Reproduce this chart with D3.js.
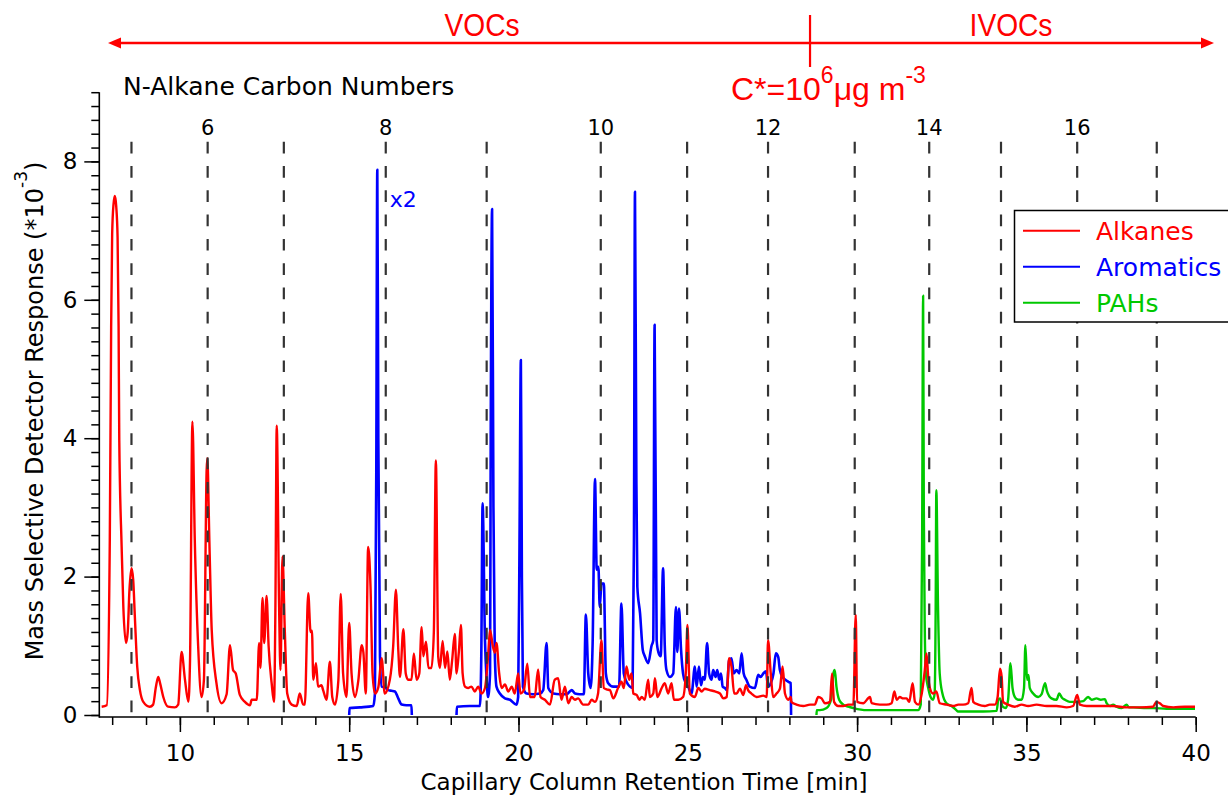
<!DOCTYPE html>
<html>
<head>
<meta charset="utf-8">
<script src="https://cdn.jsdelivr.net/npm/d3@7"></script>
<style>
  html, body { margin: 0; padding: 0; background: #fff; }
  svg { display: block; }
</style>
</head>
<body>
<svg id="chart" width="1228" height="797" font-family="DejaVu Sans, sans-serif"></svg>
<script>
// Chromatogram traces: [retention time (min), response (*10^-3)]
const alkanes = [
  [7.69,0.12],[7.84,0.14],[7.93,2.53],[7.97,5.60],[8.00,6.95],[8.04,7.38],[8.08,7.50],[8.12,7.35],
  [8.16,6.90],[8.19,5.60],[8.21,3.97],[8.28,2.43],
  [8.33,1.56],[8.41,1.04],[8.46,1.20],[8.51,1.80],[8.57,2.12],[8.62,1.96],[8.67,1.42],[8.74,0.70],
  [8.82,0.36],[8.92,0.19],[9.11,0.12],[9.21,0.15],[9.29,0.40],[9.36,0.55],[9.42,0.45],[9.51,0.26],
  [9.65,0.12],[9.85,0.11],[9.95,0.15],[10.05,0.91],[10.15,0.51],[10.25,0.19],[10.30,0.80],[10.37,4.24],
  [10.44,2.53],[10.54,0.99],[10.64,0.26],[10.71,0.51],[10.79,3.54],[10.81,3.71],[10.87,2.53],[10.94,1.23],
  [11.08,0.46],[11.23,0.17],[11.38,0.30],[11.48,1.01],[11.57,0.65],[11.65,0.60],[11.77,0.29],[11.92,0.19],
  [12.07,0.14],[12.12,0.22],[12.27,0.22],[12.34,1.04],[12.38,0.68],[12.44,1.69],[12.49,1.04],[12.56,1.72],
  [12.62,1.00],[12.71,0.46],[12.78,0.19],[12.82,1.50],[12.86,4.18],[12.93,1.56],[12.97,0.65],[13.03,2.29],
  [13.10,1.20],[13.17,0.31],[13.30,0.15],[13.45,0.13],[13.54,0.31],[13.64,0.15],[13.69,0.15],[13.79,1.76],
  [13.86,1.20],[13.90,1.22],[13.94,0.51],[14.02,0.75],[14.08,0.41],[14.18,0.43],[14.23,0.36],[14.33,0.22],
  [14.43,0.77],[14.50,0.26],[14.58,0.15],[14.68,0.50],[14.75,1.75],[14.82,0.60],[14.92,0.26],[15.00,1.33],
  [15.07,0.60],[15.17,0.26],[15.27,0.50],[15.37,1.01],[15.42,0.90],[15.49,0.31],[15.56,2.43],[15.63,1.85],
  [15.69,0.60],[15.76,0.31],[15.86,0.40],[15.96,0.82],[16.05,0.31],[16.20,0.51],[16.30,1.00],[16.38,1.81],
  [16.45,0.94],[16.50,0.55],[16.60,1.24],[16.67,0.60],[16.74,0.51],[16.84,0.51],[16.91,0.89],[16.99,0.51],
  [17.07,0.60],[17.14,1.27],[17.19,0.85],[17.27,1.06],[17.34,0.68],[17.43,0.68],[17.50,1.20],[17.56,3.68],
  [17.63,0.84],[17.68,0.68],[17.76,1.07],[17.83,0.68],[17.90,0.92],[17.97,0.51],[18.04,0.79],[18.12,1.17],
  [18.17,0.60],[18.24,0.92],[18.30,1.30],[18.35,0.60],[18.42,0.41],[18.51,0.39],[18.61,0.41],[18.71,0.34],
  [18.81,0.41],[18.91,0.31],[19.01,0.39],[19.10,0.84],[19.16,1.23],[19.24,1.00],[19.30,0.90],[19.35,1.04],
  [19.43,0.60],[19.50,0.39],[19.60,0.44],[19.70,0.34],[19.80,0.41],[19.89,0.31],[19.99,0.60],[20.06,0.31],
  [20.16,0.36],[20.26,0.74],[20.34,0.26],[20.48,0.26],[20.58,0.66],[20.65,0.26],[20.78,0.22],[20.93,0.15],
  [21.07,0.51],[21.17,0.53],[21.27,0.22],[21.37,0.41],[21.47,0.17],[21.57,0.26],[21.67,0.22],[21.76,0.24],
  [21.91,0.15],[22.06,0.15],[22.16,0.22],[22.26,0.19],[22.35,0.31],[22.45,1.08],[22.52,0.39],[22.60,0.37],
  [22.70,0.36],[22.80,0.24],[22.94,0.39],[23.04,0.48],[23.11,0.39],[23.19,0.70],[23.27,0.51],[23.34,0.60],
  [23.39,0.31],[23.49,0.29],[23.57,0.22],[23.64,0.26],[23.73,0.22],[23.83,0.51],[23.88,0.26],[23.98,0.31],
  [24.03,0.53],[24.10,0.26],[24.23,0.39],[24.32,0.46],[24.42,0.31],[24.52,0.46],[24.59,0.22],[24.72,0.22],
  [24.86,0.26],[24.94,0.60],[24.99,1.30],[25.06,0.31],[25.21,0.26],[25.31,0.39],[25.41,0.34],[25.50,0.38],
  [25.65,0.36],[25.80,0.34],[25.95,0.31],[26.05,0.24],[26.15,0.26],[26.22,0.82],[26.29,0.70],[26.37,0.31],
  [26.44,0.31],[26.54,0.38],[26.64,0.29],[26.72,0.43],[26.78,0.36],[26.88,0.31],[27.03,0.26],[27.23,0.28],
  [27.33,0.26],[27.37,1.08],[27.45,0.60],[27.52,0.26],[27.62,0.31],[27.72,0.38],[27.80,0.70],[27.87,0.31],
  [27.97,0.22],[28.04,0.26],[28.06,0.19],[28.21,0.15],[28.41,0.13],[28.61,0.15],[28.75,0.15],[28.85,0.26],
  [28.95,0.24],[29.05,0.17],[29.20,0.19],[29.26,0.60],[29.32,0.19],[29.44,0.13],[29.59,0.13],[29.74,0.15],
  [29.89,0.15],[29.96,1.45],[30.00,0.19],[30.18,0.17],[30.38,0.26],[30.43,0.17],[30.67,0.15],[30.87,0.15],
  [31.02,0.17],[31.10,0.34],[31.17,0.22],[31.26,0.26],[31.36,0.24],[31.46,0.24],[31.54,0.19],[31.64,0.46],
  [31.71,0.19],[31.81,0.15],[31.91,0.31],[32.00,0.65],[32.05,0.89],[32.10,0.55],[32.15,0.39],[32.24,0.31],
  [32.34,0.34],[32.44,0.17],[32.64,0.15],[32.84,0.13],[32.99,0.15],[33.13,0.15],[33.28,0.17],[33.38,0.39],
  [33.43,0.19],[33.58,0.15],[33.77,0.13],[33.92,0.15],[34.07,0.15],[34.15,0.26],[34.22,0.67],[34.27,0.55],
  [34.31,0.19],[34.46,0.15],[34.66,0.12],[34.86,0.15],[35.05,0.13],[35.30,0.15],[35.60,0.13],[35.89,0.13],
  [36.19,0.11],[36.38,0.13],[36.50,0.29],[36.58,0.15],[36.78,0.13],[37.17,0.13],[37.56,0.13],[37.96,0.11],
  [38.35,0.11],[38.74,0.12],[38.84,0.19],[38.94,0.17],[39.04,0.13],[39.34,0.11],[39.68,0.12],[39.98,0.12]
];

// Aromatics (plotted x2); null marks the gap between the two acquisition windows
const aromatics = [
  [15.00,0.00],[15.01,0.10],[15.32,0.11],[15.71,0.13],[15.76,0.31],[15.80,3.50],[15.83,7.88],[15.86,4.00],
  [15.91,0.84],[15.96,0.41],[16.05,0.40],[16.15,0.36],[16.25,0.35],[16.35,0.34],[16.45,0.24],[16.55,0.15],
  [16.69,0.14],[16.84,0.14],[16.85,0.00],
  null,
  [18.17,0.00],[18.18,0.12],[18.56,0.13],[18.86,0.13],[18.90,0.80],[18.94,3.06],[19.01,1.08],[19.06,0.51],
  [19.10,0.26],[19.16,0.60],[19.18,4.00],[19.22,7.31],[19.26,3.00],[19.30,0.90],[19.35,0.41],[19.45,0.31],
  [19.60,0.24],[19.75,0.22],[19.94,0.15],[19.99,0.26],[20.03,2.50],[20.07,5.13],[20.10,2.00],[20.13,0.41],
  [20.24,0.31],[20.43,0.30],[20.63,0.31],[20.73,0.36],[20.83,1.04],[20.88,0.39],[21.03,0.31],[21.22,0.30],
  [21.42,0.30],[21.57,0.36],[21.67,0.31],[21.81,0.30],[21.93,0.30],[21.99,1.45],[22.06,0.60],[22.13,0.39],
  [22.19,1.04],[22.26,3.41],[22.31,2.10],[22.36,2.14],[22.40,1.56],[22.45,1.90],[22.52,1.90],[22.58,0.60],
  [22.65,0.46],[22.80,0.41],[22.97,0.41],[23.04,1.61],[23.11,0.60],[23.19,0.48],[23.29,0.41],[23.37,0.39],
  [23.41,2.50],[23.44,7.56],[23.48,3.50],[23.51,1.85],[23.59,1.47],[23.67,0.94],[23.73,0.85],[23.83,0.75],
  [23.93,1.00],[23.98,1.08],[24.02,5.64],[24.08,1.08],[24.13,0.91],[24.20,0.85],[24.27,2.12],[24.32,1.00],
  [24.37,0.65],[24.47,0.55],[24.57,0.60],[24.65,1.56],[24.69,0.91],[24.74,1.54],[24.80,0.95],[24.86,0.60],
  [24.94,0.46],[25.01,0.41],[25.11,0.31],[25.21,0.70],[25.26,0.41],[25.33,0.70],[25.39,0.43],[25.45,0.55],
  [25.50,0.51],[25.57,1.04],[25.63,0.60],[25.70,0.51],[25.75,0.65],[25.82,0.55],[25.87,0.65],[25.93,0.51],
  [25.98,0.60],[26.03,0.41],[26.10,0.39],[26.15,0.36],[26.22,0.79],[26.29,0.82],[26.36,0.60],[26.44,0.65],
  [26.52,0.60],[26.59,0.89],[26.65,0.60],[26.73,0.51],[26.83,0.41],[26.98,0.39],[27.08,0.58],[27.15,0.55],
  [27.23,0.60],[27.31,0.63],[27.37,0.41],[27.45,0.46],[27.53,0.60],[27.60,0.89],[27.67,0.84],[27.72,0.65],
  [27.80,0.55],[27.88,0.51],[27.97,0.48],[28.04,0.46],[28.05,0.00]
];

const pahs = [
  [28.80,0.00],[28.81,0.07],[28.90,0.07],[29.10,0.10],[29.23,0.22],[29.30,0.60],[29.34,0.65],[29.39,0.41],
  [29.47,0.22],[29.59,0.15],[29.74,0.12],[29.89,0.10],[30.28,0.07],[30.77,0.07],[31.26,0.07],[31.81,0.07],
  [31.88,0.15],[31.92,2.50],[31.95,6.06],[31.97,3.00],[32.00,1.20],[32.03,0.60],[32.10,0.39],[32.17,0.26],
  [32.24,0.22],[32.29,0.31],[32.32,1.50],[32.34,3.25],[32.39,1.56],[32.44,0.60],[32.52,0.31],[32.64,0.17],
  [32.79,0.13],[32.93,0.07],[32.98,0.05],[33.23,0.05],[33.72,0.05],[34.12,0.06],[34.17,0.22],[34.22,0.24],
  [34.30,0.12],[34.39,0.10],[34.46,0.22],[34.53,0.75],[34.59,0.39],[34.66,0.26],[34.76,0.22],[34.86,0.22],
  [34.93,0.39],[34.97,1.01],[35.02,0.51],[35.06,0.58],[35.10,0.39],[35.20,0.31],[35.35,0.26],[35.45,0.30],
  [35.55,0.46],[35.61,0.34],[35.74,0.24],[35.89,0.22],[35.97,0.31],[36.05,0.25],[36.14,0.22],[36.28,0.19],
  [36.48,0.19],[36.68,0.20],[36.82,0.26],[36.93,0.22],[37.07,0.24],[37.20,0.22],[37.32,0.23],[37.37,0.17],
  [37.47,0.13],[37.56,0.15],[37.66,0.12],[37.81,0.10],[37.96,0.15],[38.03,0.11],[38.16,0.11],[38.55,0.10],
  [38.74,0.10],[39.14,0.09],[39.63,0.09],[39.98,0.09]
];

// n-alkane reference retention times and their carbon numbers
const carbonNumbers = [5, 6, 7, 8, 9, 10, 11, 12, 13, 14, 15, 16, 17];
const carbonTimes = [8.57, 10.82, 13.07, 16.08, 19.06, 22.43, 24.98, 27.37, 29.93, 32.13, 34.25, 36.50, 38.85];
const labelledCarbons = [6, 8, 10, 12, 14, 16];

const xMajorTicks = [10, 15, 20, 25, 30, 35, 40];
const yMajorTicks = [0, 2, 4, 6, 8];

const seriesNames = ["Alkanes", "Aromatics", "PAHs"];
const seriesColors = ["#ff0000", "#0000ff", "#00c800"];

// Volatility split between VOCs and IVOCs (retention time, min)
const volatilitySplit = 28.61;

const svg = d3.select("#chart");
const x = d3.scaleLinear().domain([7.62, 40]).range([99.3, 1195.7]);
const y = d3.scaleLinear().domain([0, 9]).range([715, 92.2]);
const xAxisY = 717;

// ---- traces (PAHs underneath, alkanes on top)
const line = d3.line()
  .defined(d => d !== null)
  .x(d => x(d[0]))
  .y(d => y(d[1]))
  .curve(d3.curveMonotoneX);

const traces = [
  { data: pahs, color: seriesColors[2], width: 2.4 },
  { data: aromatics, color: seriesColors[1], width: 2.6 },
  { data: alkanes, color: seriesColors[0], width: 2.4 }
];
svg.append("g").selectAll("path").data(traces).join("path")
  .attr("d", d => line(d.data))
  .attr("fill", "none")
  .attr("stroke", d => d.color)
  .attr("stroke-width", d => d.width)
  .attr("stroke-linejoin", "round");

// ---- n-alkane marker lines
svg.append("g").selectAll("line").data(carbonTimes).join("line")
  .attr("x1", d => x(d)).attr("x2", d => x(d))
  .attr("y1", 141.7).attr("y2", y(0))
  .attr("stroke", "#333")
  .attr("stroke-width", 2.2)
  .attr("stroke-dasharray", "11.7,12.6");

svg.append("g").selectAll("text")
  .data(carbonNumbers.map((c, i) => ({ c, t: carbonTimes[i] })).filter(d => labelledCarbons.includes(d.c)))
  .join("text")
  .attr("x", d => x(d.t)).attr("y", 135)
  .attr("text-anchor", "middle")
  .attr("font-size", 21)
  .text(d => d.c);

svg.append("text")
  .attr("x", 123).attr("y", 95)
  .attr("font-size", 25)
  .text("N-Alkane Carbon Numbers");

// ---- axes
const xMinor = d3.range(8, 41, 1);
const yMinor = d3.range(0, 46, 1).map(i => i * 0.2);

const gx = svg.append("g").attr("transform", `translate(0,${xAxisY})`);
gx.append("g").call(d3.axisBottom(x).tickValues(xMinor).tickSize(8).tickFormat(""));
gx.append("g").call(d3.axisBottom(x).tickValues(xMajorTicks).tickSize(15).tickPadding(13).tickFormat(d3.format("d")));
gx.selectAll(".domain").remove();
gx.selectAll("g").attr("font-family", null);
gx.selectAll("line").attr("stroke", "#000").attr("stroke-width", 1.5);
gx.selectAll("text").attr("font-size", 23).attr("fill", "#000");
gx.append("line").attr("x1", x.range()[0]).attr("x2", x.range()[1])
  .attr("stroke", "#000").attr("stroke-width", 1.6);

const gy = svg.append("g").attr("transform", `translate(${x.range()[0]},0)`);
gy.append("g").call(d3.axisLeft(y).tickValues(yMinor).tickSize(8).tickFormat(""));
gy.append("g").call(d3.axisLeft(y).tickValues(yMajorTicks).tickSize(15).tickPadding(7).tickFormat(d3.format("d")));
gy.selectAll(".domain").remove();
gy.selectAll("g").attr("font-family", null);
gy.selectAll("line").attr("stroke", "#000").attr("stroke-width", 1.5);
gy.selectAll("text").attr("font-size", 23).attr("fill", "#000");
gy.append("line").attr("y1", y(9)).attr("y2", xAxisY + 0.8)
  .attr("stroke", "#000").attr("stroke-width", 1.6);

// axis titles
svg.append("text")
  .attr("x", 644).attr("y", 790)
  .attr("text-anchor", "middle")
  .attr("font-size", 23)
  .text("Capillary Column Retention Time [min]");

const yTitle = svg.append("text")
  .attr("transform", "translate(43,411) rotate(-90)")
  .attr("text-anchor", "middle")
  .attr("font-size", 24);
yTitle.append("tspan").text("Mass Selective Detector Response (*10");
yTitle.append("tspan").attr("font-size", 17).attr("dy", -16).text("-3");
yTitle.append("tspan").attr("dy", 16).text(")");

// ---- "x2" note on the aromatic trace
svg.append("text")
  .attr("x", x(16.2)).attr("y", y(7.34))
  .attr("font-size", 22)
  .attr("fill", seriesColors[1])
  .text("x2");

// ---- VOC / IVOC banner
const red = "#ff0000";
const sansFace = "Liberation Sans, Arial, sans-serif";
const arrowY = 43, arrowL = 108, arrowR = 1214;
const banner = svg.append("g");
banner.append("line")
  .attr("x1", arrowL + 10).attr("x2", arrowR - 10)
  .attr("y1", arrowY).attr("y2", arrowY)
  .attr("stroke", red).attr("stroke-width", 2.4);
banner.append("path")
  .attr("d", `M${arrowL},${arrowY} L${arrowL + 13},${arrowY - 5.5} L${arrowL + 13},${arrowY + 5.5} Z`)
  .attr("fill", red);
banner.append("path")
  .attr("d", `M${arrowR},${arrowY} L${arrowR - 13},${arrowY - 5.5} L${arrowR - 13},${arrowY + 5.5} Z`)
  .attr("fill", red);
banner.append("line")
  .attr("x1", x(volatilitySplit)).attr("x2", x(volatilitySplit))
  .attr("y1", 15).attr("y2", 67)
  .attr("stroke", red).attr("stroke-width", 2.2);

// region names in a slightly condensed face
[["VOCs", 482], ["IVOCs", 1011]].forEach(([label, cx]) => {
  banner.append("text")
    .attr("transform", `translate(${cx},36) scale(0.88,1)`)
    .attr("text-anchor", "middle")
    .attr("font-family", sansFace)
    .attr("font-size", 32)
    .attr("fill", red)
    .text(label);
});

const cstar = banner.append("text")
  .attr("x", 731).attr("y", 100)
  .attr("font-family", sansFace)
  .attr("font-size", 32)
  .attr("fill", red);
cstar.append("tspan").text("C*=10");
cstar.append("tspan").attr("font-size", 23).attr("dy", -17).text("6");
cstar.append("tspan").attr("dy", 17).text("\u03BCg m");
cstar.append("tspan").attr("font-size", 23).attr("dy", -17).text("-3");

// ---- legend
const legend = svg.append("g");
legend.append("rect")
  .attr("x", 1014.5).attr("y", 210.5)
  .attr("width", 230).attr("height", 111.5)
  .attr("fill", "#fff")
  .attr("stroke", "#000").attr("stroke-width", 1.5);
const rows = legend.selectAll("g.row").data(seriesNames).join("g")
  .attr("class", "row")
  .attr("transform", (d, i) => `translate(0,${230.7 + i * 36})`);
rows.append("line")
  .attr("x1", 1023).attr("x2", 1080)
  .attr("stroke", (d, i) => seriesColors[i]).attr("stroke-width", 2);
rows.append("text")
  .attr("x", 1096).attr("y", 9)
  .attr("font-size", 25)
  .attr("fill", (d, i) => seriesColors[i])
  .text(d => d);
</script>
</body>
</html>
